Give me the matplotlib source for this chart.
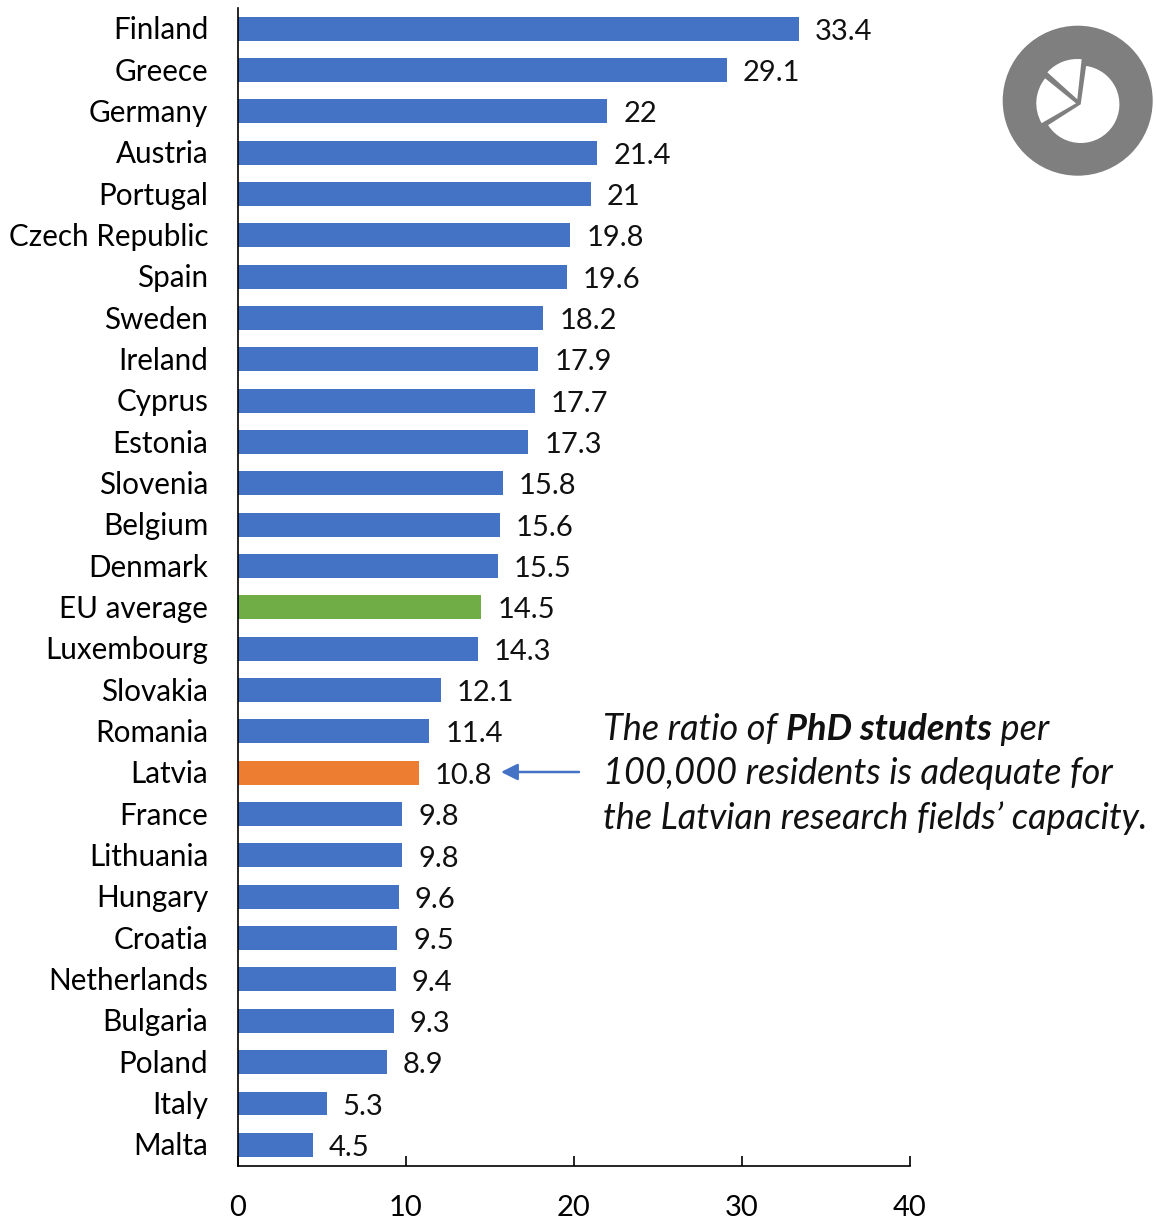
import matplotlib.pyplot as plt
from matplotlib.patches import Circle, Wedge
from matplotlib.transforms import ScaledTranslation

# PhD students per 100,000 residents, EU countries
countries = ["Finland", "Greece", "Germany", "Austria", "Portugal", "Czech Republic", "Spain",
             "Sweden", "Ireland", "Cyprus", "Estonia", "Slovenia", "Belgium", "Denmark",
             "EU average", "Luxembourg", "Slovakia", "Romania", "Latvia", "France", "Lithuania",
             "Hungary", "Croatia", "Netherlands", "Bulgaria", "Poland", "Italy", "Malta"]
values = [33.4, 29.1, 22, 21.4, 21, 19.8, 19.6, 18.2, 17.9, 17.7, 17.3, 15.8, 15.6, 15.5,
          14.5, 14.3, 12.1, 11.4, 10.8, 9.8, 9.8, 9.6, 9.5, 9.4, 9.3, 8.9, 5.3, 4.5]
x_ticks = [0, 10, 20, 30, 40]

BLUE = "#4472C4"
GREEN = "#70AD47"
ORANGE = "#ED7D31"
GREY = "#7F7F7F"

W, H = 1156, 1225
plt.rcParams['font.family'] = ['Lato', 'DejaVu Sans']

fig = plt.figure(figsize=(W / 100, H / 100), dpi=100)
ax = fig.add_axes([237.5 / W, 1 - 1165.5 / H, (910 - 237.5) / W, (1165.5 - 8) / H])

colors = [BLUE] * len(countries)
colors[countries.index("EU average")] = GREEN
colors[countries.index("Latvia")] = ORANGE

bars = ax.barh(countries, values, height=0.58, color=colors)
labels = ax.bar_label(bars, fmt='%g', padding=11.5, fontsize=21, color="#111111")
for t in labels:
    t.xyann = (11.5, -2.2)

ax.set_xlim(0, 40)
ax.set_ylim(len(countries) - 0.5, -0.5)
ax.set_xticks(x_ticks)
ax.tick_params(axis='x', direction='in', length=7, width=1.2, labelsize=21, pad=21.5)
ax.tick_params(axis='y', length=0, labelsize=21.3, pad=21)
ax.spines['top'].set_visible(False)
ax.spines['right'].set_visible(False)
ax.spines['left'].set_linewidth(1.2)
ax.spines['bottom'].set_linewidth(1.2)

# country names sit a pixel above the bar centres
up = ScaledTranslation(0, 1 / 100, fig.dpi_scale_trans)
for lab in ax.get_yticklabels():
    lab.set_transform(lab.get_transform() + up)

# overlay in pixel coords for the arrow, note and icon
over = fig.add_axes([0, 0, 1, 1])
over.set_xlim(0, W)
over.set_ylim(H, 0)
over.axis('off')
over.patch.set_alpha(0)

over.annotate("", xy=(501, 772), xytext=(579, 772),
              arrowprops=dict(arrowstyle='-|>', color=BLUE, lw=1.8, mutation_scale=25,
                              shrinkA=0, shrinkB=0))

note_size = 26
fig.canvas.draw()
r = fig.canvas.get_renderer()
x = 603
for part, weight in [("The ratio of ", 'normal'), ("PhD students", 'bold'), (" per", 'normal')]:
    t = over.text(x, 729, part.replace(" ", "\u00a0"), fontsize=note_size, style='italic',
                  weight=weight, va='center', ha='left', color="#111111")
    x = t.get_window_extent(r).x1
over.text(603, 773, "100,000 residents is adequate for", fontsize=note_size, style='italic',
          va='center', ha='left', color="#111111")
over.text(603, 818, "the Latvian research fields\u2019 capacity.", fontsize=note_size,
          style='italic', va='center', ha='left', color="#111111")

# pie chart icon, second axes with y up so the wedge angles read normally
icon = fig.add_axes([0, 0, 1, 1])
icon.set_xlim(0, W)
icon.set_ylim(0, H)
icon.axis('off')
icon.patch.set_alpha(0)
icon.add_patch(Circle((1077.7, H - 100.7), 75, color=GREY, lw=0))
icon.add_patch(Wedge((1080.7, H - 104.3), 38.7, -147.4, 82, color="white", lw=0))
icon.add_patch(Wedge((1077.3, H - 99.3), 40.3, 83.8, 138, color="white", lw=0))
icon.add_patch(Wedge((1076, H - 103.3), 39.7, 141, 210, color="white", lw=0))

fig.savefig("out.png", dpi=100)
